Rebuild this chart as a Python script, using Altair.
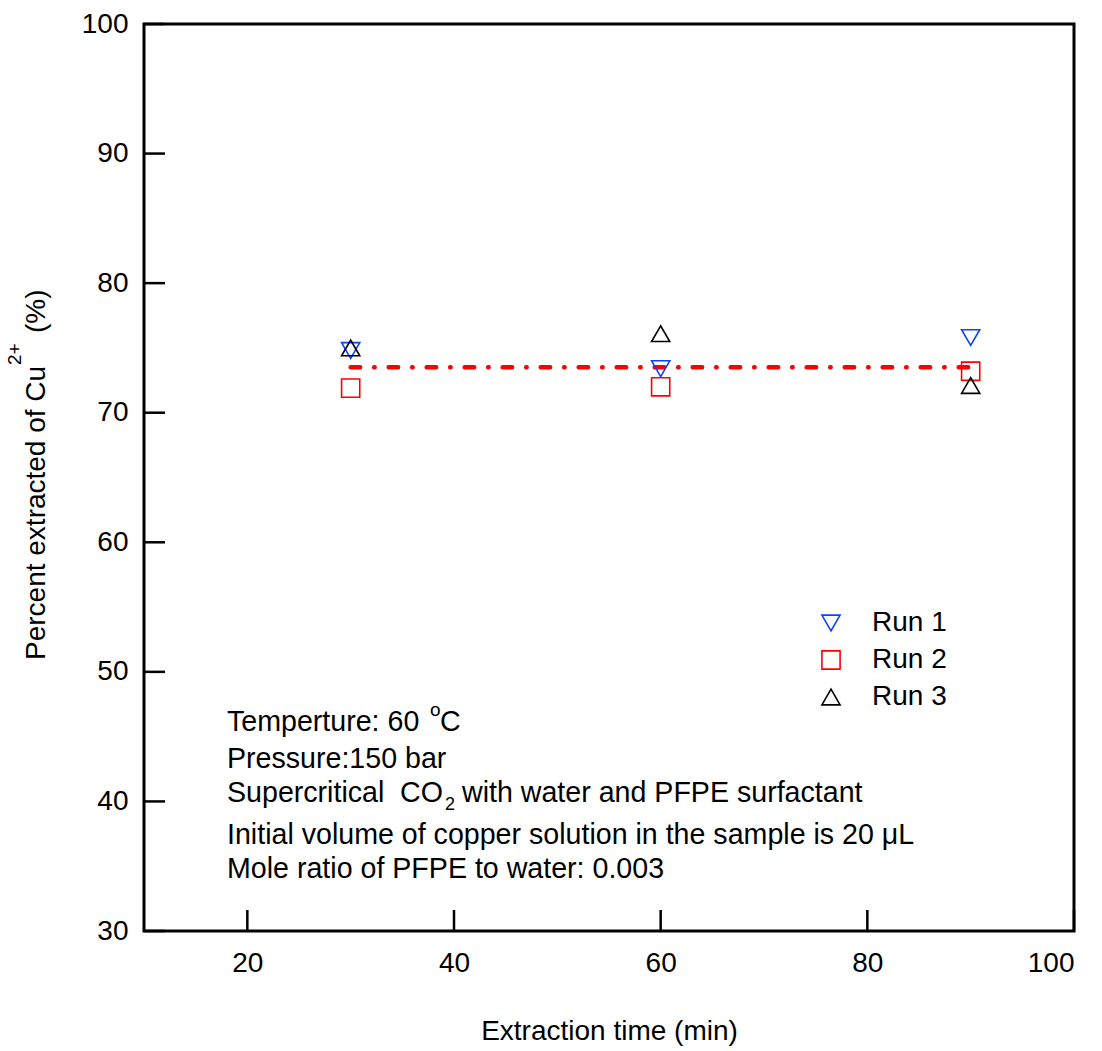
import altair as alt
import pandas as pd

# ---- data ----
times = [30, 60, 90]
run1 = [74.8, 73.4, 75.8]
run2 = [71.9, 72.0, 73.2]
run3 = [75.0, 76.1, 72.1]
runs = ["Run 1", "Run 2", "Run 3"]
mean_x = [30, 90]
mean_y = [73.5, 73.5]
x_ticks = [20, 40, 60, 80, 100]
y_ticks = [30, 40, 50, 60, 70, 80, 90, 100]

W, H = 930, 907
FONT = "Liberation Sans"
FS = 28
AFS = 28.6

rows = []
for name, vals in zip(runs, [run1, run2, run3]):
    for t, v in zip(times, vals):
        rows.append({"time": t, "pct": v, "run": name})
pts = pd.DataFrame(rows)
line_df = pd.DataFrame({"time": mean_x, "pct": mean_y})
xt_df = pd.DataFrame({"time": x_ticks})
yt_df = pd.DataFrame({"pct": y_ticks})

xscale = alt.Scale(domain=[10, 100], nice=False, zero=False)
yscale = alt.Scale(domain=[30, 100], nice=False, zero=False)

xaxis = alt.Axis(values=x_ticks, ticks=False, domain=False, grid=False,
                 labelFontSize=FS, labelFont=FONT, labelPadding=18, labelColor="black",
                 title="Extraction time (min)", titleFontSize=FS, titleFont=FONT,
                 titleFontWeight="normal", titlePadding=40, titleColor="black")
yaxis = alt.Axis(values=y_ticks, ticks=False, domain=False, grid=False,
                 labelFontSize=FS, labelFont=FONT, labelPadding=16, labelColor="black",
                 title="")

leg = alt.Legend(title=None, orient="none", legendX=673, legendY=585,
                 labelFontSize=FS, labelFont=FONT, labelColor="black",
                 symbolSize=330, symbolStrokeWidth=1.6, labelOffset=27,
                 rowPadding=9, symbolFillColor="transparent")

points = alt.Chart(pts).mark_point(filled=False, size=330, strokeWidth=1.6, opacity=1).encode(
    x=alt.X("time:Q", scale=xscale, axis=xaxis),
    y=alt.Y("pct:Q", scale=yscale, axis=yaxis),
    shape=alt.Shape("run:N", scale=alt.Scale(domain=runs, range=["triangle-down", "square", "triangle-up"]),
                    legend=leg),
    color=alt.Color("run:N", scale=alt.Scale(domain=runs, range=["#1040ff", "#ff0000", "#000000"]),
                    legend=leg),
)

mean_line = alt.Chart(line_df).mark_line(color="#ff0000", strokeWidth=4.5, strokeCap="round",
                                         strokeDash=[9.5, 14, 0.5, 14]).encode(
    x=alt.X("time:Q", scale=xscale),
    y=alt.Y("pct:Q", scale=yscale),
)

xticks = alt.Chart(xt_df).mark_rule(color="black", strokeWidth=2.5).encode(
    x=alt.X("time:Q", scale=xscale),
    y=alt.value(H), y2=alt.value(H - 21),
)
yticks = alt.Chart(yt_df).mark_rule(color="black", strokeWidth=2.5).encode(
    y=alt.Y("pct:Q", scale=yscale),
    x=alt.value(0), x2=alt.value(21),
)

def txt(s, x, y, size=AFS, angle=0, align="left", baseline="alphabetic"):
    kw = dict(text=s, fontSize=size, font=FONT, color="black", align=align, baseline=baseline)
    if angle:
        kw["angle"] = angle
    return alt.Chart(pd.DataFrame({"a": [0]})).mark_text(**kw).encode(
        x=alt.value(x), y=alt.value(y))

annos = [
    txt("Temperture: 60", 83, 707),
    txt("o", 286, 692, size=19),
    txt("C", 296, 707),
    txt("Pressure:150 bar", 83, 744),
    txt("Supercritical", 83, 778),
    txt("CO", 256, 778),
    txt("2", 301, 786, size=18),
    txt("with water and PFPE surfactant", 318, 778),
    txt("Initial volume of copper solution in the sample is 20 μL", 83, 820),
    txt("Mole ratio of PFPE to water: 0.003", 83, 854),
    # y-axis title pieces
    txt("Percent extracted of Cu", -99, 636, size=FS, angle=270),
    txt("2+", -123, 341, size=19, angle=270),
    txt("(%)", -99, 309, size=FS, angle=270),
]

chart = alt.layer(mean_line, points, xticks, yticks, *annos).properties(
    width=W, height=H,
    padding={"left": 144, "top": 24, "right": 28, "bottom": 120},
    autosize=alt.AutoSizeParams(type="none"),
    background="white",
).configure_view(stroke="black", strokeWidth=3)

chart.save("out.html", embed_options={"renderer": "svg", "actions": False})
